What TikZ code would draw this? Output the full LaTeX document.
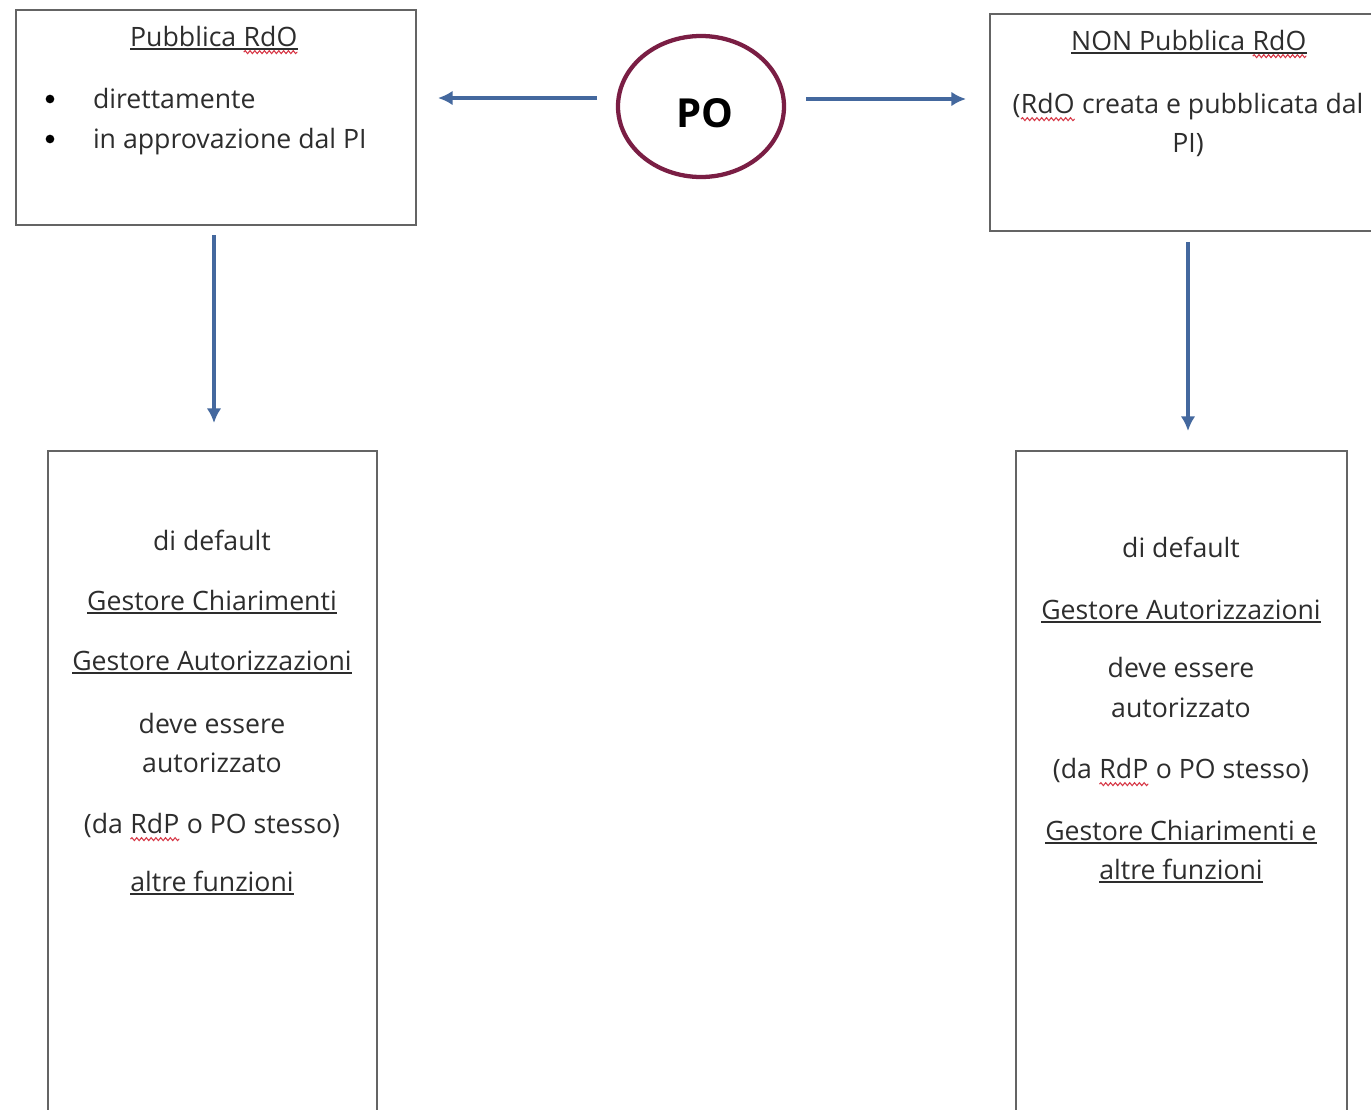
\documentclass[tikz,border=0pt]{standalone}
\usepackage{fontspec}
\setmainfont{Open Sans}
\usetikzlibrary{calc,arrows.meta,shapes.geometric,decorations.pathmorphing}
\definecolor{arrowblue}{RGB}{68,104,158}
\definecolor{pored}{RGB}{122,30,68}
\definecolor{boxgray}{RGB}{100,100,100}
\definecolor{txtgray}{RGB}{45,45,45}
\definecolor{spellred}{RGB}{215,55,70}
\newcommand\ulx[1]{\tikz[baseline=(u.base)]{\node[inner sep=0pt,outer sep=0pt,anchor=base](u){#1};\draw[line width=1.3pt,txtgray] ([yshift=-2.5pt]u.base west) -- ([yshift=-2.5pt]u.base east);}}
\newcommand\wvx[1]{\tikz[baseline=(w.base)]{\node[inner sep=0pt,outer sep=0pt,anchor=base](w){#1};\draw[spellred,line width=0.8pt,decorate,decoration={snake,amplitude=1.1pt,segment length=3.6pt}] ([yshift=-4.6pt]w.base west) -- ([yshift=-4.6pt]w.base east);}}
\begin{document}
\begin{tikzpicture}[x=0.75pt,y=-0.75pt,
  box/.style={draw=boxgray,line width=1.5pt,rectangle,inner sep=0pt,outer sep=0pt},
  txt/.style={font=\fontsize{20}{30}\selectfont,text=txtgray,inner sep=0pt,outer sep=0pt,anchor=base},
  bul/.style={circle,fill=black,inner sep=0pt,minimum size=6.5pt},
  arr/.style={draw=arrowblue,line width=2.6pt,-{Latex[length=11pt,width=11pt]}}]
\clip (0,0) rectangle (1371,1110);
\fill[white] (0,0) rectangle (1371,1110);

% boxes
\node[box,minimum width=300pt,minimum height=161.25pt] (tl) at (216,117.5) {};
\node[box,minimum width=297pt,minimum height=163.1pt] (tr) at (1188,122.25) {};
\node[box,minimum width=247.1pt,minimum height=531.75pt] (bl) at (212.25,805.5) {};
\node[box,minimum width=247.9pt,minimum height=531.75pt] (br) at (1181.75,805.5) {};
\node[draw=pored,line width=3.2pt,ellipse,inner sep=0pt,outer sep=0pt,minimum width=124.5pt,minimum height=105.75pt] (po) at (701,106.5) {};
\node[inner sep=0pt,anchor=base,font=\fontsize{30}{36}\selectfont\bfseries,text=black] (potext) at (705,127) {PO};

% top-left text
\node[txt] (tltitle) at (214,46) {\ulx{Pubblica \wvx{RdO}}};
\node[bul] (b1) at (50,99) {};
\node[bul] (b2) at (50,139) {};
\node[txt,anchor=base west] (l1) at (93,108) {direttamente};
\node[txt,anchor=base west] (l2) at (93,148) {in approvazione dal PI};

% top-right text
\node[txt] (trtitle) at (1189,50) {\ulx{NON Pubblica \wvx{RdO}}};
\node[txt] (tr1) at (1188,113) {(\wvx{RdO} creata e pubblicata dal};
\node[txt] (tr2) at (1188,152) {PI)};

% bottom-left text
\node[txt] (bl1) at (212,550) {di default};
\node[txt] (bl2) at (212,610) {\ulx{Gestore Chiarimenti}};
\node[txt] (bl3) at (212,670) {\ulx{Gestore Autorizzazioni}};
\node[txt] (bl4) at (212,733) {deve essere};
\node[txt] (bl5) at (212,772) {autorizzato};
\node[txt] (bl6) at (212,833) {(da \wvx{RdP} o PO stesso)};
\node[txt] (bl7) at (212,891) {\ulx{altre funzioni}};

% bottom-right text
\node[txt] (br1) at (1181,557) {di default};
\node[txt] (br2) at (1181,619) {\ulx{Gestore Autorizzazioni}};
\node[txt] (br3) at (1181,677) {deve essere};
\node[txt] (br4) at (1181,717) {autorizzato};
\node[txt] (br5) at (1181,778) {(da \wvx{RdP} o PO stesso)};
\node[txt] (br6) at (1181,840) {\ulx{Gestore Chiarimenti e}};
\node[txt] (br7) at (1181,879) {\ulx{altre funzioni}};

% arrows
\draw[arr] ($(po.west)+(-21,-8.5)$) -- ($(tl.east|-po.west)+(22,-8.5)$);
\draw[arr] ($(po.east)+(22,-7.5)$) -- ($(tr.west|-po.east)+(-24,-7.5)$);
\draw[arr] ($(tl.south)+(-2,10)$) -- ($(bl.north)+(1.75,-28)$);
\draw[arr] ($(tr.south)+(0,11)$) -- ($(br.north)+(6.25,-20)$);
\end{tikzpicture}
\end{document}
